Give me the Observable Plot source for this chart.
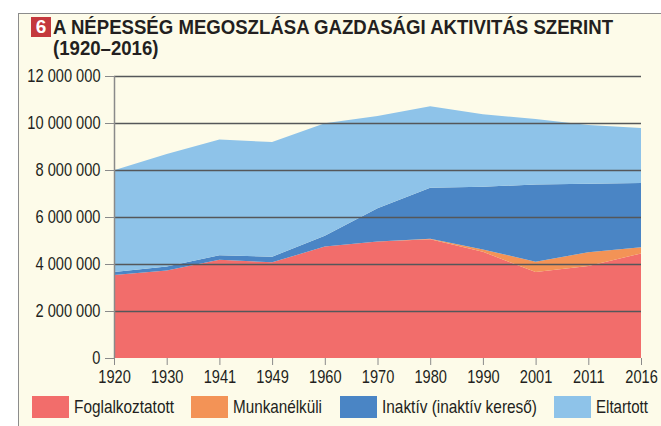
<!DOCTYPE html>
<html>
<head>
<meta charset="utf-8">
<script src="https://cdn.jsdelivr.net/npm/d3@7"></script>
<script src="https://cdn.jsdelivr.net/npm/@observablehq/plot@0.6"></script>
<style>
  html, body { margin: 0; padding: 0; background: #ffffff; width: 661px; height: 426px; overflow: hidden; }
  body { font-family: "Liberation Sans", Arial, sans-serif; color: #231f20; }
  #frame { position: absolute; left: 18px; top: 13px; width: 700px; height: 500px; background: #fdfbe9; border: 1.5px solid #8c8c8c; box-sizing: border-box; }
  #badge { position: absolute; left: 31px; top: 17px; width: 20px; height: 20px; background: #c4393d; color: #fff; font-weight: bold; font-size: 19px; line-height: 20px; text-align: center; }
  .narrow { position: absolute; white-space: nowrap; transform-origin: 0 0; }
  #t1 { left: 53px; top: 15px; font-weight: bold; font-size: 20.5px; line-height: 23px; }
  #t2 { left: 53px; top: 36px; font-weight: bold; font-size: 20.5px; line-height: 23px; }
  #chart { position: absolute; left: 0; top: 60px; }
  .sw { position: absolute; top: 396px; width: 37px; height: 22px; }
  .lb { top: 396px; font-size: 18.5px; line-height: 22px; }
</style>
</head>
<body>
<div id="frame"></div>
<div id="badge">6</div>
<div id="t1" class="narrow">A NÉPESSÉG MEGOSZLÁSA GAZDASÁGI AKTIVITÁS SZERINT</div>
<div id="t2" class="narrow">(1920–2016)</div>
<div id="chart"></div>
<div id="legend"></div>
<script>
// ---- data (persons) ----
const years = ["1920", "1930", "1941", "1949", "1960", "1970", "1980", "1990", "2001", "2011", "2016"];
const seriesNames = ["Foglalkoztatott", "Munkanélküli", "Inaktív (inaktív kereső)", "Eltartott"];
const seriesColors = ["#f26d6b", "#f39356", "#4a85c5", "#8ec3e9"];
const foglalkoztatott = [3530000, 3720000, 4180000, 4070000, 4740000, 4960000, 5050000, 4520000, 3660000, 3910000, 4450000];
const munkanelkuli    = [0, 0, 0, 0, 0, 0, 20000, 100000, 440000, 590000, 260000];
const inaktiv         = [130000, 170000, 190000, 240000, 460000, 1410000, 2180000, 2670000, 3280000, 2920000, 2740000];
const eltartott       = [4330000, 4790000, 4930000, 4880000, 4790000, 3930000, 3460000, 3080000, 2790000, 2490000, 2340000];
const yTicks = [0, 2000000, 4000000, 6000000, 8000000, 10000000, 12000000];

const seriesValues = [foglalkoztatott, munkanelkuli, inaktiv, eltartott];
const rows = [];
seriesNames.forEach((name, s) => {
  years.forEach((yr, i) => rows.push({ i, series: name, value: seriesValues[s][i] }));
});

const NARROW = 0.79;
const fmt = v => d3.format(",")(v).replace(/,/g, " ");
const fontFamily = '"Liberation Sans", Arial, sans-serif';

const chart = Plot.plot({
  width: 661,
  height: 332,
  marginLeft: 114,
  marginRight: 20,
  marginTop: 16,
  marginBottom: 34,
  style: { background: "transparent", fontFamily, fontSize: "18.5px", color: "#231f20" },
  x: { type: "linear", domain: [0, years.length - 1] },
  y: { domain: [0, 12000000] },
  color: { domain: seriesNames, range: seriesColors },
  marks: [
    Plot.areaY(rows, { x: "i", y: "value", fill: "series", order: null }),
    Plot.ruleY(yTicks.filter(v => v > 0), { stroke: "#55575a", strokeWidth: 1.3 }),
    Plot.ruleX([0], { y1: 0, y2: 12000000, stroke: "#8a8a8a", strokeWidth: 1.5 }),
    Plot.axisY({ ticks: yTicks, tickFormat: fmt, tickSize: 9, tickPadding: 5, stroke: "#8a8a8a", label: null, fill: "#231f20" }),
    Plot.axisX({ ticks: d3.range(years.length), tickFormat: i => years[i], tickSize: 7, tickPadding: 4, stroke: "#8a8a8a", label: null, fill: "#231f20" })
  ]
});
document.getElementById("chart").appendChild(chart);

// narrow the axis labels (simulate a condensed face)
chart.querySelectorAll("text").forEach(t => {
  const len = t.getComputedTextLength();
  if (len > 0) {
    t.setAttribute("textLength", (len * NARROW).toFixed(2));
    t.setAttribute("lengthAdjust", "spacingAndGlyphs");
  }
});

// legend
const lg = document.getElementById("legend");
const swX = [32, 191, 340, 554];
const lbW = [100, 89, 155, 52];
seriesNames.forEach((name, k) => {
  const sw = document.createElement("div");
  sw.className = "sw"; sw.style.left = swX[k] + "px"; sw.style.background = seriesColors[k];
  lg.appendChild(sw);
});
seriesNames.forEach((name, k) => {
  const lb = document.createElement("div");
  lb.className = "narrow lb"; lb.style.left = (swX[k] + 42) + "px"; lb.textContent = name;
  lg.appendChild(lb);
  const kk = lbW[k] / lb.getBoundingClientRect().width;
  lb.style.transform = `scaleX(${kk})`;
});

// title: condensed to the reference width
const t1 = document.getElementById("t1");
const k1 = 560 / t1.getBoundingClientRect().width;
t1.style.transform = `scaleX(${k1})`;
document.getElementById("t2").style.transform = `scaleX(${k1})`;
</script>
</body>
</html>
